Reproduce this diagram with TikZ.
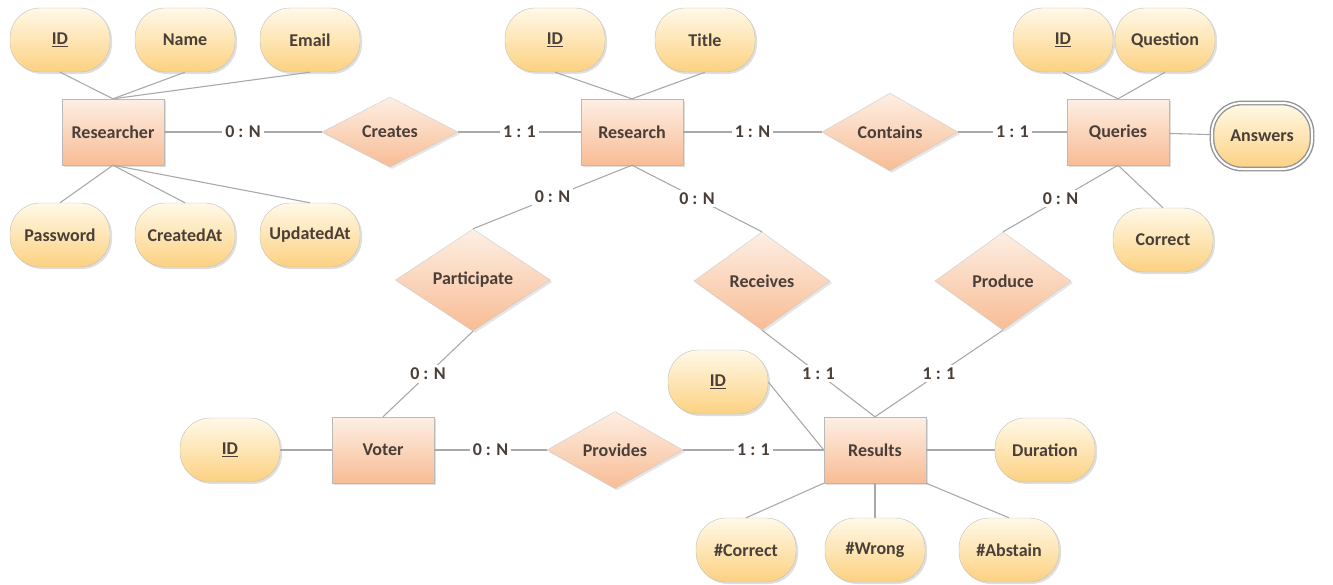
\documentclass[tikz,border=0pt]{standalone}
\usepackage{fontspec}
\setmainfont{Carlito}
\usetikzlibrary{shapes.geometric,shadows,positioning}

\definecolor{txt}{HTML}{4A3F38}
\definecolor{enttop}{HTML}{FDEFE4}
\definecolor{entbot}{HTML}{F8BC94}
\definecolor{atttop}{HTML}{FFF9E8}
\definecolor{attbot}{HTML}{FCD181}
\definecolor{linkgray}{HTML}{A9A9A9}

\tikzset{
  entity/.style={rectangle, draw=gray!55, top color=enttop, bottom color=entbot,
    minimum width=102, minimum height=66, text=txt,
    font=\bfseries\fontsize{18}{20}\selectfont,
    drop shadow={shadow xshift=2pt, shadow yshift=-2pt, opacity=0.25}},
  attr/.style={rectangle, rounded corners=30pt, draw=gray!50, top color=atttop, bottom color=attbot,
    minimum width=100, minimum height=64, text=txt,
    font=\bfseries\fontsize{18}{20}\selectfont,
    drop shadow={shadow xshift=2pt, shadow yshift=-2pt, opacity=0.25}},
  multiattr/.style={attr, draw=gray!85, line width=1.4pt, double=white, double distance=2pt},
  rel/.style={diamond, draw=gray!40, top color=enttop, bottom color=entbot, inner sep=0pt,
    minimum width=136, minimum height=70, text=txt,
    font=\bfseries\fontsize{18}{20}\selectfont,
    drop shadow={shadow xshift=2pt, shadow yshift=-2pt, opacity=0.2}},
  card/.style={fill=white, text=txt, inner sep=3pt, font=\bfseries\fontsize{18}{20}\selectfont},
  link/.style={draw=linkgray, line width=1.1pt}
}

\begin{document}
\begin{tikzpicture}[x=1pt,y=-1pt]
  \useasboundingbox (0,0) rectangle (1333,584);

  % entities
  \node[entity] (researcher) at (113,132) {Researcher};
  \node[entity] (research)   at (632,132) {Research};
  \node[entity] (queries)    at (1118,132) {Queries};
  \node[entity] (voter)      at (383,450) {Voter};
  \node[entity] (results)    at (875,450) {Results};

  % relationships
  \node[rel] (creates)  at (390,132) {Creates};
  \node[rel] (contains) at (890,132) {Contains};
  \node[rel, minimum width=155, minimum height=102] (participate) at (473,280) {Participate};
  \node[rel, minimum height=98] (receives) at (762,281) {Receives};
  \node[rel, minimum height=98] (produce)  at (1003,281) {Produce};
  \node[rel] (provides) at (615,450) {Provides};

  % attributes
  \node[attr] (rs_id)    at (60,40)   {\underline{ID}};
  \node[attr] (rs_name)  at (185,40)  {Name};
  \node[attr] (rs_email) at (310,40)  {Email};
  \node[attr] (rs_pass)  at (60,235)  {Password};
  \node[attr] (rs_creat) at (185,235) {CreatedAt};
  \node[attr] (rs_updat) at (310,235) {UpdatedAt};

  \node[attr] (re_id)    at (555,40)  {\underline{ID}};
  \node[attr] (re_title) at (705,40)  {Title};

  \node[attr] (q_id)     at (1063,40) {\underline{ID}};
  \node[attr] (q_quest)  at (1165,40) {Question};
  \node[attr] (q_corr)   at (1163,240) {Correct};
  \node[multiattr, minimum height=66] (q_answ) at (1262,136) {Answers};

  \node[attr] (v_id)     at (230,450) {\underline{ID}};

  \node[attr] (res_id)   at (718,382) {\underline{ID}};
  \node[attr] (res_dur)  at (1045,450) {Duration};
  \node[attr] (res_corr) at (746,550) {\#Correct};
  \node[attr] (res_wrong) at (875,550) {\#Wrong};
  \node[attr] (res_abst) at (1009,550) {\#Abstain};

  \path[link]
    (rs_id.south)    edge (researcher.north)
    (rs_name.south)  edge (researcher.north)
    (rs_email.south) edge (researcher.north)
    (rs_pass.north)  edge (researcher.south)
    (rs_creat.north) edge (researcher.south)
    (rs_updat.north) edge (researcher.south)

    (re_id.south)    edge (research.north)
    (re_title.south) edge (research.north)

    (q_id.south)     edge (queries.north)
    (q_quest.south)  edge (queries.north)
    (queries.south)  edge (q_corr.north)
    (queries)        edge (q_answ)

    (v_id)           edge (voter)

    (res_id.east)    edge (results.west)
    (results)        edge (res_dur)
    (results.south west) edge (res_corr.north)
    (results.south)  edge (res_wrong.north)
    (results.south east) edge (res_abst.north);

  \path[link]
    (researcher)  edge node[card] {0 : N} (creates)
    (creates)     edge node[card] {1 : 1} (research)
    (research)    edge node[card] {1 : N} (contains)
    (contains)    edge node[card] {1 : 1} (queries)
    (research.south) edge node[card] {0 : N} (participate.north)
    (research.south) edge node[card] {0 : N} (receives.north)
    (queries.south)  edge node[card] {0 : N} (produce.north)
    (participate.south) edge node[card] {0 : N} (voter.north)
    (receives.south) edge node[card] {1 : 1} (results.north)
    (produce.south)  edge node[card] {1 : 1} (results.north)
    (voter)       edge node[card] {0 : N} (provides)
    (provides)    edge node[card] {1 : 1} (results);
\end{tikzpicture}
\end{document}
